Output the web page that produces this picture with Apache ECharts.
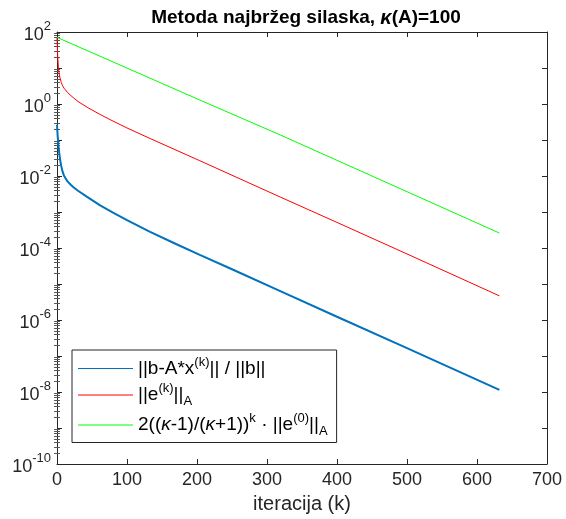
<!DOCTYPE html>
<html>
<head>
<meta charset="utf-8">
<script src="https://cdn.jsdelivr.net/npm/echarts@6/dist/echarts.min.js"></script>
<style>
  html, body { margin: 0; padding: 0; background: #fff; }
  #chart { width: 566px; height: 519px; }
</style>
</head>
<body>
<div id="chart"></div>
<script>
// Relative residual ||b - A x(k)|| / ||b||
const residualIter = [0, 1, 2, 3, 4, 5, 6, 8, 10, 15, 20, 24, 30, 43, 61, 80, 100, 133, 170, 204, 250, 319, 400, 500, 632];
const residualValue = [0.266, 0.126, 0.0708, 0.0468, 0.0331, 0.0245, 0.0191, 0.0132, 0.0102, 0.00708, 0.00562, 0.00479,
  0.00389, 0.00263, 0.00155, 0.000955, 0.000596, 0.000282, 0.000129, 6.46e-5, 2.57e-5, 6.31e-6, 1.23e-6, 1.66e-7, 1.15e-8];

// Energy norm of the error ||e(k)||_A
const errorIter = [0, 1, 2, 3, 4, 6, 8, 10, 15, 20, 24, 30, 43, 61, 80, 100, 133, 170, 204, 250, 319, 400, 500, 632];
const errorValue = [68, 22, 10, 7.1, 5.6, 4.0, 3.2, 2.75, 2.1, 1.7, 1.46, 1.175, 0.813, 0.519, 0.335, 0.216, 0.110, 0.0525,
  0.0266, 0.0105, 0.0026, 0.000513, 6.84e-5, 4.68e-6];

// Theoretical bound 2((kappa-1)/(kappa+1))^k * ||e(0)||_A
const boundIter = [0, 204, 319, 632];
const boundValue = [71, 1.29, 0.138, 2.6e-4];

// Axis ticks
const xTicks = [0, 100, 200, 300, 400, 500, 600, 700];
const yDecadeExp = [-10, -9, -8, -7, -6, -5, -4, -3, -2, -1, 0, 1, 2];
const yLabelExp = [-10, -8, -6, -4, -2, 0, 2];

const seriesNames = ['||b-A*x(k)|| / ||b||', '||e(k)||A', '2((κ-1)/(κ+1))^k · ||e(0)||A'];

const decadeValues = yDecadeExp.map(e => Number('1e' + e));
const labelValues = yLabelExp.map(e => Number('1e' + e));
const minorValues = [];
yDecadeExp.slice(0, -1).forEach(e => {
  for (let m = 2; m <= 9; m++) minorValues.push(Number(m + 'e' + e));
});

const pairs = (xs, ys) => xs.map((x, i) => [x, ys[i]]);

const axisColor = '#262626';
const FONT = '"Liberation Sans", Arial, Helvetica, sans-serif';

const legendRich = {
  n:   { fontSize: 19, fontFamily: FONT, color: '#000', lineHeight: 26, verticalAlign: 'middle' },
  ki:  { fontSize: 19, fontFamily: FONT, color: '#000', lineHeight: 26, fontStyle: 'italic', verticalAlign: 'middle' },
  sup: { fontSize: 13, fontFamily: FONT, color: '#000', lineHeight: 13, verticalAlign: 'top' },
  sub: { fontSize: 13, fontFamily: FONT, color: '#000', lineHeight: 13, verticalAlign: 'bottom' }
};
const legendRichText = {};
legendRichText[seriesNames[0]] = '{n|||b-A*x}{sup|(k)}{n||| / ||b||}';
legendRichText[seriesNames[1]] = '{n|||e}{sup|(k)}{n|||}{sub|A}';
legendRichText[seriesNames[2]] = '{n|2((}{ki|κ}{n|-1)/(}{ki|κ}{n|+1))}{sup|k}{n| · ||e}{sup|(0)}{n|||}{sub|A}';

function yAxisBase(position) {
  return {
    type: 'log',
    logBase: 10,
    min: 1e-10,
    max: 1e2,
    position: position,
    splitLine: { show: false },
    minorSplitLine: { show: false }
  };
}

const chart = echarts.init(document.getElementById('chart'), null, { renderer: 'canvas' });

chart.setOption({
  animation: false,
  backgroundColor: '#fff',
  title: {
    text: '{t|Metoda najbržeg silaska, }{k|κ}{t|(A)=100}',
    left: 301,
    top: 3,
    textAlign: 'center',
    textStyle: {
      rich: {
        t: { fontSize: 19, fontWeight: 'bold', fontFamily: FONT, color: '#000' },
        k: { fontSize: 20, fontWeight: 'bold', fontStyle: 'italic', fontFamily: FONT, color: '#000' }
      }
    }
  },
  grid: { left: 57, right: 19, top: 32, bottom: 55, containLabel: false, outerBoundsMode: 'none' },
  legend: {
    left: 72,
    top: 350,
    orient: 'vertical',
    data: seriesNames,
    icon: 'rect',
    itemWidth: 55,
    itemHeight: 1,
    itemGap: 4,
    padding: [5.5, 9, 4.5, 6],
    backgroundColor: '#fff',
    borderColor: axisColor,
    borderWidth: 1,
    selectedMode: false,
    formatter: name => legendRichText[name],
    textStyle: { fontSize: 19, fontFamily: FONT, color: '#000', rich: legendRich }
  },
  xAxis: [
    {
      type: 'value', min: 0, max: 700, interval: 100, position: 'bottom',
      name: 'iteracija (k)', nameLocation: 'middle', nameGap: 30,
      nameTextStyle: { fontSize: 20, fontFamily: FONT, color: axisColor },
      axisLine: { show: true, onZero: false, lineStyle: { color: axisColor, width: 1 } },
      axisTick: { show: true, inside: true, length: 5, lineStyle: { color: axisColor } },
      axisLabel: { fontSize: 18, fontFamily: FONT, color: axisColor, margin: 7, customValues: xTicks },
      splitLine: { show: false }
    },
    {
      type: 'value', min: 0, max: 700, interval: 100, position: 'top',
      axisLine: { show: true, onZero: false, lineStyle: { color: axisColor, width: 1 } },
      axisTick: { show: true, inside: true, length: 5, lineStyle: { color: axisColor } },
      axisLabel: { show: false },
      splitLine: { show: false }
    }
  ],
  yAxis: [
    Object.assign(yAxisBase('left'), {
      axisLine: { show: true, onZero: false, lineStyle: { color: axisColor, width: 1 } },
      axisTick: { show: true, inside: true, length: 5, customValues: decadeValues, lineStyle: { color: axisColor } },
      axisLabel: {
        show: true, margin: 6, customValues: labelValues,
        formatter: v => '{b|10}{e|' + Math.round(Math.log10(v)) + '}',
        rich: {
          b: { fontSize: 18, fontFamily: FONT, color: axisColor, lineHeight: 24, verticalAlign: 'bottom' },
          e: { fontSize: 13, fontFamily: FONT, color: axisColor, lineHeight: 13, verticalAlign: 'top' }
        }
      }
    }),
    Object.assign(yAxisBase('right'), {
      axisLine: { show: true, onZero: false, lineStyle: { color: axisColor, width: 1 } },
      axisTick: { show: true, inside: true, length: 5, customValues: decadeValues, lineStyle: { color: axisColor } },
      axisLabel: { show: false }
    }),
    Object.assign(yAxisBase('left'), {
      axisLine: { show: false },
      axisTick: { show: true, inside: true, length: 3, customValues: minorValues, lineStyle: { color: '#5a5a5a' } },
      axisLabel: { show: false }
    }),
    Object.assign(yAxisBase('right'), {
      axisLine: { show: false },
      axisTick: { show: true, inside: true, length: 3, customValues: minorValues, lineStyle: { color: '#5a5a5a' } },
      axisLabel: { show: false }
    })
  ],
  series: [
    {
      name: seriesNames[0], type: 'line', xAxisIndex: 0, yAxisIndex: 0,
      data: pairs(residualIter, residualValue),
      symbol: 'none', smooth: false, color: '#0072BD',
      lineStyle: { color: '#0072BD', width: 2 }
    },
    {
      name: seriesNames[1], type: 'line', xAxisIndex: 0, yAxisIndex: 0,
      data: pairs(errorIter, errorValue),
      symbol: 'none', smooth: false, color: '#FF0000',
      lineStyle: { color: '#FF0000', width: 1 }
    },
    {
      name: seriesNames[2], type: 'line', xAxisIndex: 0, yAxisIndex: 0,
      data: pairs(boundIter, boundValue),
      symbol: 'none', smooth: false, color: '#00FF00',
      lineStyle: { color: '#00FF00', width: 1 }
    }
  ]
});
</script>
</body>
</html>
